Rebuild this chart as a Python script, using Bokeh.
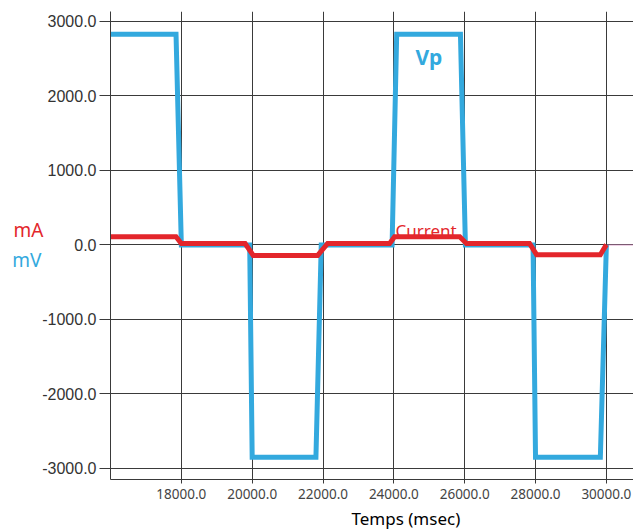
from bokeh.plotting import figure
from bokeh.models import (Range1d, FixedTicker, PrintfTickFormatter, Label,
                          Title, LinearAxis)
from bokeh.embed import file_html
from bokeh.resources import INLINE

# --- data ---
time_vp = [16000, 17850, 18000, 19930, 20000, 21800, 21950, 23950, 24080,
           25880, 26020, 27930, 28000, 29830, 30000]
vp_mv = [2830, 2830, 0, 0, -2850, -2850, 0, 0, 2830,
         2830, 0, 0, -2850, -2850, 0]

time_raw = [16000, 17870, 18020, 19950, 20020, 21830, 21990, 23970, 24100,
            25900, 26040, 27950, 28020, 29850, 30020, 30766]
raw_mv = [2830, 2830, 0, 0, -2850, -2850, 0, 0, 2830,
          2830, 0, 0, -2850, -2850, 0, 0]

time_cur = [16000, 17850, 18000, 19800, 20030, 21850, 22130, 23880, 24020,
            25860, 26050, 27830, 28030, 29830, 30000]
cur_ma = [110, 110, 20, 20, -140, -140, 20, 20, 110,
          110, 20, 20, -130, -130, 5]

x_ticks = [18000, 20000, 22000, 24000, 26000, 28000, 30000]
y_ticks = [-3000, -2000, -1000, 0, 1000, 2000, 3000]

unit_labels = ["mA", "mV"]
unit_label_y = [195, -200]

BLUE = "#33a9de"
RED = "#e3262b"

p = figure(width=633, height=532,
           x_range=Range1d(16000, 30766), y_range=Range1d(-3148, 3134),
           output_backend="svg", toolbar_location=None,
           min_border_left=110, min_border_right=0,
           min_border_top=11, min_border_bottom=53)

p.outline_line_color = None
p.background_fill_color = "white"
p.border_fill_color = "white"

p.xaxis.ticker = FixedTicker(ticks=x_ticks)
p.yaxis.ticker = FixedTicker(ticks=y_ticks)
p.xaxis.formatter = PrintfTickFormatter(format="%.1f")
p.yaxis.formatter = PrintfTickFormatter(format="%.1f")

for g in (p.xgrid, p.ygrid):
    g.grid_line_color = "#3a3a3a"
    g.grid_line_width = 1

for ax in (p.xaxis, p.yaxis):
    ax.axis_line_color = "#3a3a3a"
    ax.axis_line_width = 1
    ax.major_tick_line_color = "#3a3a3a"
    ax.major_tick_in = 0
    ax.minor_tick_in = 0
    ax.minor_tick_out = 0

p.yaxis.major_tick_out = 11
p.yaxis.major_label_standoff = 3
p.yaxis.major_label_text_font = "Liberation Sans"
p.yaxis.major_label_text_font_size = "16px"
p.yaxis.major_label_text_color = "#333333"

p.xaxis.major_tick_out = 4
p.xaxis.major_label_standoff = 5
p.xaxis.major_label_text_font = "Noto Sans"
p.xaxis.major_label_text_font_size = "13.5px"
p.xaxis.major_label_text_color = "#444444"

# unit labels "mA" / "mV": tick labels of two bare axes stacked left of the y axis
standoffs = [-4, -31]
for txt, yv, col, so in zip(unit_labels, unit_label_y, [RED, BLUE], standoffs):
    ua = LinearAxis(ticker=FixedTicker(ticks=[yv]),
                    major_label_overrides={yv: txt},
                    axis_line_color=None, major_tick_line_color=None,
                    minor_tick_line_color=None,
                    major_tick_in=0, major_tick_out=0,
                    major_label_standoff=so,
                    major_label_text_color=col,
                    major_label_text_font="Noto Sans",
                    major_label_text_font_size="19px")
    p.add_layout(ua, "left")

p.line(time_raw, raw_mv, line_color="#d48ac0", line_width=1, line_alpha=0.8)
p.line(time_vp, vp_mv, line_color=BLUE, line_width=5, line_join="miter")
p.line(time_cur, cur_ma, line_color=RED, line_width=5, line_join="miter")

p.add_layout(Label(x=24611, y=2517, text="Vp", text_color=BLUE,
                   text_font="Noto Sans", text_font_style="bold",
                   text_font_size="21px", text_baseline="alphabetic"))
p.add_layout(Label(x=24046, y=195, text="Current", text_color=RED,
                   text_font="Noto Sans", text_font_size="17px",
                   text_baseline="alphabetic"))

t = Title(text="Temps (msec)", align="left", offset=241, standoff=6,
          text_font="Noto Sans", text_font_size="17px",
          text_font_style="normal", text_color="black")
p.add_layout(t, "below")

open("out.html", "w").write(file_html(p, INLINE))
